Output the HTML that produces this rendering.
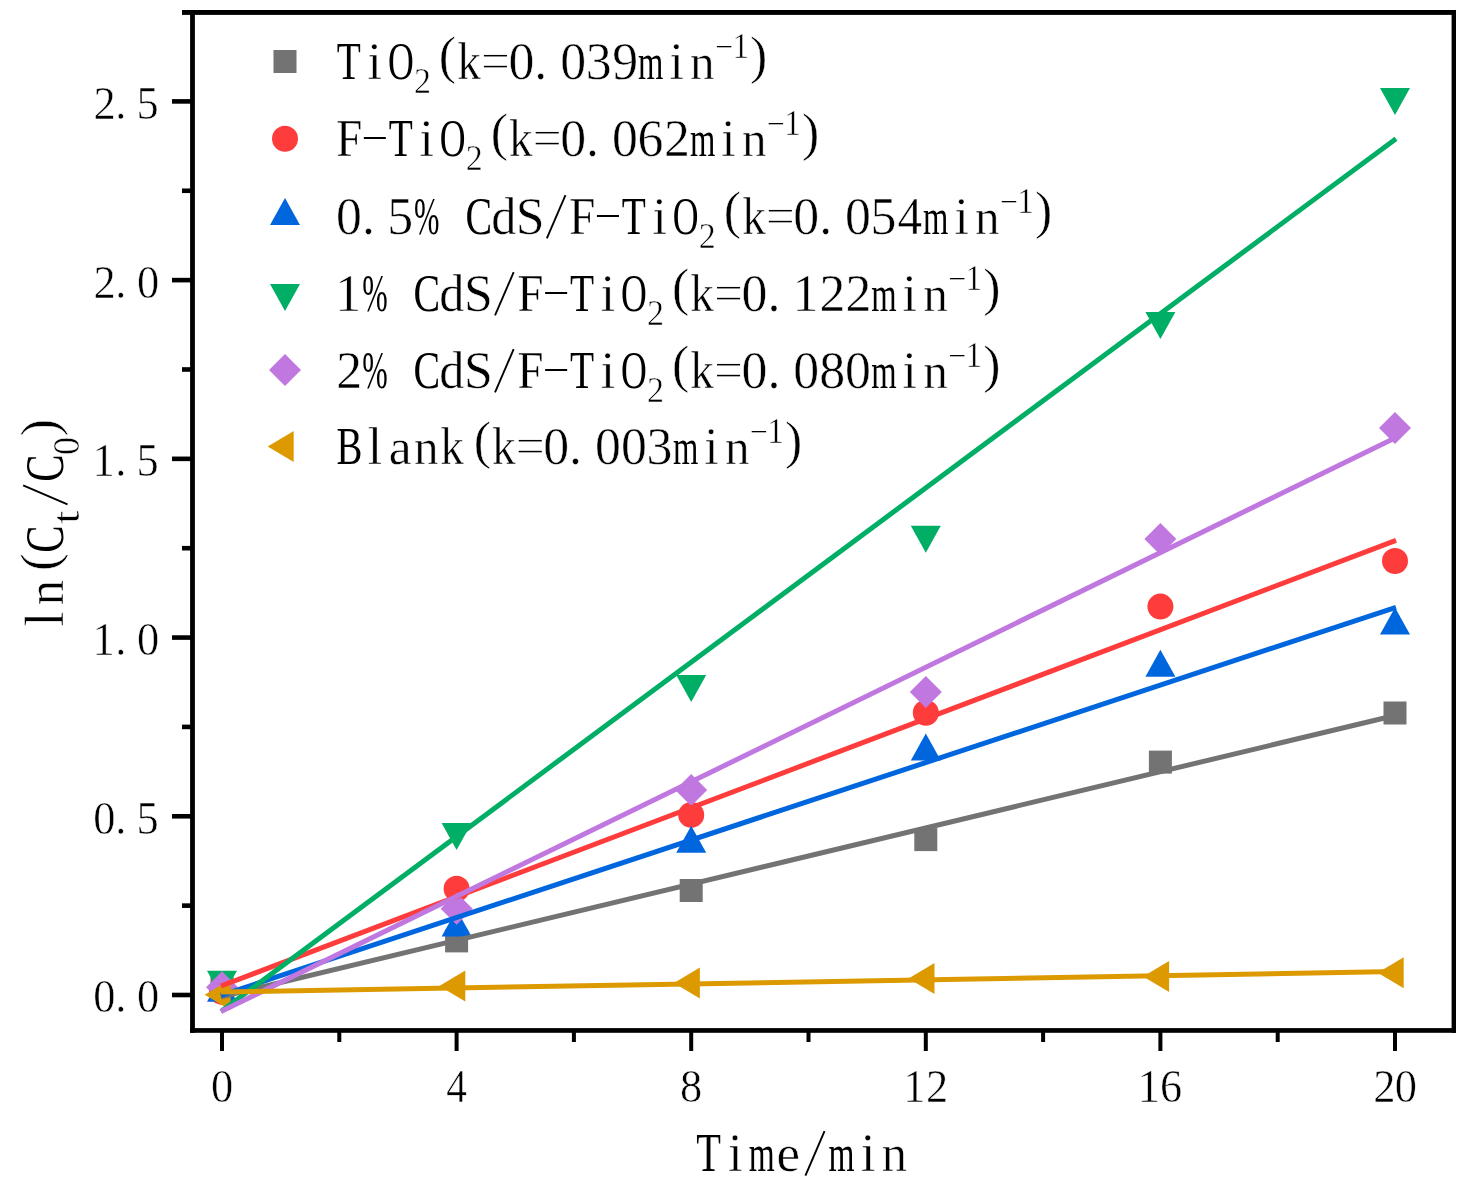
<!DOCTYPE html>
<html><head><meta charset="utf-8"><title>ln(Ct/C0) vs Time</title>
<style>html,body{margin:0;padding:0;background:#fff;}body{width:1476px;height:1192px;overflow:hidden;font-family:"Liberation Serif",serif;}svg{display:block;will-change:transform;}</style>
</head><body>
<svg width="1476" height="1192" viewBox="0 0 1476 1192">
<rect width="1476" height="1192" fill="#fff"/>
<g fill="#000"><rect x="190.1" y="10" width="4.8" height="1022.8" fill="#000"/><rect x="182" y="10" width="1274" height="4.9" fill="#000"/><rect x="1451.6" y="10" width="4.4" height="1022.8" fill="#000"/><rect x="190.1" y="1028.1" width="1265.9" height="4.7" fill="#000"/><rect x="172" y="992.7" width="19" height="4.6" fill="#000"/><rect x="172" y="813.98" width="19" height="4.6" fill="#000"/><rect x="172" y="635.26" width="19" height="4.6" fill="#000"/><rect x="172" y="456.54" width="19" height="4.6" fill="#000"/><rect x="172" y="277.82" width="19" height="4.6" fill="#000"/><rect x="172" y="99.1" width="19" height="4.6" fill="#000"/><rect x="182" y="903.34" width="9" height="4.6" fill="#000"/><rect x="182" y="724.62" width="9" height="4.6" fill="#000"/><rect x="182" y="545.9" width="9" height="4.6" fill="#000"/><rect x="182" y="367.18" width="9" height="4.6" fill="#000"/><rect x="182" y="188.46" width="9" height="4.6" fill="#000"/><rect x="220" y="1032" width="4" height="19" fill="#000"/><rect x="454.6" y="1032" width="4" height="19" fill="#000"/><rect x="689.2" y="1032" width="4" height="19" fill="#000"/><rect x="923.8" y="1032" width="4" height="19" fill="#000"/><rect x="1158.4" y="1032" width="4" height="19" fill="#000"/><rect x="1393" y="1032" width="4" height="19" fill="#000"/><rect x="337.3" y="1032" width="4" height="10" fill="#000"/><rect x="571.9" y="1032" width="4" height="10" fill="#000"/><rect x="806.5" y="1032" width="4" height="10" fill="#000"/><rect x="1041.1" y="1032" width="4" height="10" fill="#000"/><rect x="1275.7" y="1032" width="4" height="10" fill="#000"/></g>
<g><rect x="210.5" y="974.5" width="23" height="23" fill="#737373"/><rect x="445.1" y="929.4" width="23" height="23" fill="#737373"/><rect x="679.7" y="879" width="23" height="23" fill="#737373"/><rect x="914.3" y="828.1" width="23" height="23" fill="#737373"/><rect x="1148.9" y="750.6" width="23" height="23" fill="#737373"/><rect x="1383.5" y="701.5" width="23" height="23" fill="#737373"/><circle cx="222" cy="991.8" r="13" fill="#FF3C3C"/><circle cx="456.6" cy="888.8" r="13" fill="#FF3C3C"/><circle cx="691.2" cy="814.9" r="13" fill="#FF3C3C"/><circle cx="925.8" cy="712.8" r="13" fill="#FF3C3C"/><circle cx="1160.4" cy="606.6" r="13" fill="#FF3C3C"/><circle cx="1395" cy="561" r="13" fill="#FF3C3C"/><polygon points="222,974.8 237,1001.8 207,1001.8" fill="#0066DE"/><polygon points="456.6,909.6 471.6,936.6 441.6,936.6" fill="#0066DE"/><polygon points="691.2,825.7 706.2,852.7 676.2,852.7" fill="#0066DE"/><polygon points="925.8,733.4 940.8,760.4 910.8,760.4" fill="#0066DE"/><polygon points="1160.4,649.7 1175.4,676.7 1145.4,676.7" fill="#0066DE"/><polygon points="1395,607.4 1410,634.4 1380,634.4" fill="#0066DE"/><polygon points="207,970.8 237,970.8 222,997.8" fill="#00AE65"/><polygon points="441.6,823 471.6,823 456.6,850" fill="#00AE65"/><polygon points="676.2,675 706.2,675 691.2,702" fill="#00AE65"/><polygon points="910.8,525.8 940.8,525.8 925.8,552.8" fill="#00AE65"/><polygon points="1145.4,312 1175.4,312 1160.4,339" fill="#00AE65"/><polygon points="1380,88 1410,88 1395,115" fill="#00AE65"/><polygon points="222,971.2 238,987.2 222,1003.2 206,987.2" fill="#C078E0"/><polygon points="456.6,892.8 472.6,908.8 456.6,924.8 440.6,908.8" fill="#C078E0"/><polygon points="691.2,774 707.2,790 691.2,806 675.2,790" fill="#C078E0"/><polygon points="925.8,676 941.8,692 925.8,708 909.8,692" fill="#C078E0"/><polygon points="1160.4,522.9 1176.4,538.9 1160.4,554.9 1144.4,538.9" fill="#C078E0"/><polygon points="1395,412 1411,428 1395,444 1379,428" fill="#C078E0"/><polygon points="204.7,994.7 230.7,979.2 230.7,1010.2" fill="#DC9A00"/><polygon points="439.3,985.9 465.3,970.4 465.3,1001.4" fill="#DC9A00"/><polygon points="673.9,982.9 699.9,967.4 699.9,998.4" fill="#DC9A00"/><polygon points="908.5,978.5 934.5,963 934.5,994" fill="#DC9A00"/><polygon points="1143.1,976.4 1169.1,960.9 1169.1,991.9" fill="#DC9A00"/><polygon points="1377.7,972.8 1403.7,957.3 1403.7,988.3" fill="#DC9A00"/><g><line x1="221" y1="996.74" x2="1396" y2="715.26" stroke="#737373" stroke-width="5"/><line x1="221" y1="985.98" x2="1396" y2="540.42" stroke="#FF3C3C" stroke-width="5"/><line x1="221" y1="995.33" x2="1396" y2="607.27" stroke="#0066DE" stroke-width="5"/><line x1="221" y1="1011.44" x2="1396" y2="138.66" stroke="#00AE65" stroke-width="5"/><line x1="221" y1="1011.49" x2="1396" y2="437.51" stroke="#C078E0" stroke-width="5"/><line x1="221" y1="992.12" x2="1396" y2="971.58" stroke="#DC9A00" stroke-width="5"/></g><rect x="273.5" y="50" width="23" height="23" fill="#737373"/><circle cx="285" cy="138.7" r="13" fill="#FF3C3C"/><polygon points="285,198 300,225 270,225" fill="#0066DE"/><polygon points="270,284 300,284 285,311" fill="#00AE65"/><polygon points="285,354 301,370 285,386 269,370" fill="#C078E0"/><polygon points="267.7,446.4 293.7,430.9 293.7,461.9" fill="#DC9A00"/></g>
<g fill="#000" font-family="'Liberation Serif', serif"><text transform="translate(93.15 1012.4) scale(1 1.03)" font-size="44.4" vector-effect="non-scaling-stroke" stroke="#fff" stroke-width="0.5">0</text><text transform="translate(115.13 1012.4) scale(1 1.03)" font-size="44.4" vector-effect="non-scaling-stroke" stroke="#fff" stroke-width="0.5">.</text><text transform="translate(136.95 1012.4) scale(1 1.03)" font-size="44.4" vector-effect="non-scaling-stroke" stroke="#fff" stroke-width="0.5">0</text><text transform="translate(93.15 833.68) scale(1 1.03)" font-size="44.4" vector-effect="non-scaling-stroke" stroke="#fff" stroke-width="0.5">0</text><text transform="translate(115.13 833.68) scale(1 1.03)" font-size="44.4" vector-effect="non-scaling-stroke" stroke="#fff" stroke-width="0.5">.</text><text transform="translate(136.53 833.68) scale(1 1.03)" font-size="44.4" vector-effect="non-scaling-stroke" stroke="#fff" stroke-width="0.5">5</text><text transform="translate(92.53 654.96) scale(1 1.03)" font-size="44.4" vector-effect="non-scaling-stroke" stroke="#fff" stroke-width="0.5">1</text><text transform="translate(115.13 654.96) scale(1 1.03)" font-size="44.4" vector-effect="non-scaling-stroke" stroke="#fff" stroke-width="0.5">.</text><text transform="translate(136.95 654.96) scale(1 1.03)" font-size="44.4" vector-effect="non-scaling-stroke" stroke="#fff" stroke-width="0.5">0</text><text transform="translate(92.53 476.24) scale(1 1.03)" font-size="44.4" vector-effect="non-scaling-stroke" stroke="#fff" stroke-width="0.5">1</text><text transform="translate(115.13 476.24) scale(1 1.03)" font-size="44.4" vector-effect="non-scaling-stroke" stroke="#fff" stroke-width="0.5">.</text><text transform="translate(136.53 476.24) scale(1 1.03)" font-size="44.4" vector-effect="non-scaling-stroke" stroke="#fff" stroke-width="0.5">5</text><text transform="translate(93.4 297.52) scale(1 1.03)" font-size="44.4" vector-effect="non-scaling-stroke" stroke="#fff" stroke-width="0.5">2</text><text transform="translate(115.13 297.52) scale(1 1.03)" font-size="44.4" vector-effect="non-scaling-stroke" stroke="#fff" stroke-width="0.5">.</text><text transform="translate(136.95 297.52) scale(1 1.03)" font-size="44.4" vector-effect="non-scaling-stroke" stroke="#fff" stroke-width="0.5">0</text><text transform="translate(93.4 118.8) scale(1 1.03)" font-size="44.4" vector-effect="non-scaling-stroke" stroke="#fff" stroke-width="0.5">2</text><text transform="translate(115.13 118.8) scale(1 1.03)" font-size="44.4" vector-effect="non-scaling-stroke" stroke="#fff" stroke-width="0.5">.</text><text transform="translate(136.53 118.8) scale(1 1.03)" font-size="44.4" vector-effect="non-scaling-stroke" stroke="#fff" stroke-width="0.5">5</text><text transform="translate(210.9 1101.8) scale(1 1.03)" font-size="44.4" vector-effect="non-scaling-stroke" stroke="#fff" stroke-width="0.5">0</text><text transform="translate(446.15 1101.8) scale(0.93 1.03)" font-size="44.4" vector-effect="non-scaling-stroke" stroke="#fff" stroke-width="0.5">4</text><text transform="translate(680.1 1101.8) scale(1 1.03)" font-size="44.4" vector-effect="non-scaling-stroke" stroke="#fff" stroke-width="0.5">8</text><text transform="translate(903.13 1101.8) scale(1 1.03)" font-size="44.4" vector-effect="non-scaling-stroke" stroke="#fff" stroke-width="0.5">1</text><text transform="translate(925.9 1101.8) scale(1 1.03)" font-size="44.4" vector-effect="non-scaling-stroke" stroke="#fff" stroke-width="0.5">2</text><text transform="translate(1137.73 1101.8) scale(1 1.03)" font-size="44.4" vector-effect="non-scaling-stroke" stroke="#fff" stroke-width="0.5">1</text><text transform="translate(1159.96 1101.8) scale(1 1.03)" font-size="44.4" vector-effect="non-scaling-stroke" stroke="#fff" stroke-width="0.5">6</text><text transform="translate(1373.2 1101.8) scale(1 1.03)" font-size="44.4" vector-effect="non-scaling-stroke" stroke="#fff" stroke-width="0.5">2</text><text transform="translate(1394.85 1101.8) scale(1 1.03)" font-size="44.4" vector-effect="non-scaling-stroke" stroke="#fff" stroke-width="0.5">0</text><text transform="translate(336.84 79) scale(0.76 1.03)" font-size="51.8" vector-effect="non-scaling-stroke">T</text><text transform="translate(367.6 79) scale(1 1.03)" font-size="51.8" vector-effect="non-scaling-stroke" stroke="#fff" stroke-width="0.5">i</text><text transform="translate(387.89 79) scale(0.69 1.03)" font-size="51.8" vector-effect="non-scaling-stroke">O</text><text transform="translate(413.89 93) scale(1 1.03)" font-size="34" vector-effect="non-scaling-stroke" stroke="#fff" stroke-width="0.5">2</text><text transform="translate(438.87 73.33) scale(1 1)" font-size="51.8" vector-effect="non-scaling-stroke" stroke="#fff" stroke-width="0.5">(</text><text transform="translate(457.25 79) scale(0.91 1.03)" font-size="51.8" vector-effect="non-scaling-stroke" stroke="#fff" stroke-width="0.5">k</text><rect x="483.92" y="65.82" width="23.05" height="1.5"/><rect x="483.92" y="54.94" width="23.05" height="1.5"/><text transform="translate(508.4 79) scale(1 1.03)" font-size="51.8" vector-effect="non-scaling-stroke" stroke="#fff" stroke-width="0.5">0</text><text transform="translate(534.3 79) scale(1 1.03)" font-size="51.8" vector-effect="non-scaling-stroke" stroke="#fff" stroke-width="0.5">.</text><text transform="translate(560.2 79) scale(1 1.03)" font-size="51.8" vector-effect="non-scaling-stroke" stroke="#fff" stroke-width="0.5">0</text><text transform="translate(585.87 79) scale(1 1.03)" font-size="51.8" vector-effect="non-scaling-stroke" stroke="#fff" stroke-width="0.5">3</text><text transform="translate(612.23 79) scale(1 1.03)" font-size="51.8" vector-effect="non-scaling-stroke" stroke="#fff" stroke-width="0.5">9</text><text transform="translate(638.12 79) scale(0.63 0.98)" font-size="51.8" vector-effect="non-scaling-stroke">m</text><text transform="translate(669.5 79) scale(1 1.03)" font-size="51.8" vector-effect="non-scaling-stroke" stroke="#fff" stroke-width="0.5">i</text><text transform="translate(690.12 79) scale(0.95 0.98)" font-size="51.8" vector-effect="non-scaling-stroke" stroke="#fff" stroke-width="0.5">n</text><rect x="716.87" y="46" width="14.45" height="1.3"/><text transform="translate(732.13 58) scale(1 1.03)" font-size="34" vector-effect="non-scaling-stroke" stroke="#fff" stroke-width="0.5">1</text><text transform="translate(750.08 73.33) scale(1 1)" font-size="51.8" vector-effect="non-scaling-stroke" stroke="#fff" stroke-width="0.5">)</text><text transform="translate(336.22 156) scale(0.9 1.03)" font-size="51.8" vector-effect="non-scaling-stroke" stroke="#fff" stroke-width="0.25">F</text><rect x="363.84" y="137" width="22.01" height="2"/><text transform="translate(388.64 156) scale(0.76 1.03)" font-size="51.8" vector-effect="non-scaling-stroke">T</text><text transform="translate(419.4 156) scale(1 1.03)" font-size="51.8" vector-effect="non-scaling-stroke" stroke="#fff" stroke-width="0.5">i</text><text transform="translate(439.69 156) scale(0.69 1.03)" font-size="51.8" vector-effect="non-scaling-stroke">O</text><text transform="translate(465.69 170) scale(1 1.03)" font-size="34" vector-effect="non-scaling-stroke" stroke="#fff" stroke-width="0.5">2</text><text transform="translate(490.67 150.33) scale(1 1)" font-size="51.8" vector-effect="non-scaling-stroke" stroke="#fff" stroke-width="0.5">(</text><text transform="translate(509.05 156) scale(0.91 1.03)" font-size="51.8" vector-effect="non-scaling-stroke" stroke="#fff" stroke-width="0.5">k</text><rect x="535.72" y="142.82" width="23.05" height="1.5"/><rect x="535.72" y="131.94" width="23.05" height="1.5"/><text transform="translate(560.2 156) scale(1 1.03)" font-size="51.8" vector-effect="non-scaling-stroke" stroke="#fff" stroke-width="0.5">0</text><text transform="translate(586.1 156) scale(1 1.03)" font-size="51.8" vector-effect="non-scaling-stroke" stroke="#fff" stroke-width="0.5">.</text><text transform="translate(612 156) scale(1 1.03)" font-size="51.8" vector-effect="non-scaling-stroke" stroke="#fff" stroke-width="0.5">0</text><text transform="translate(637.56 156) scale(1 1.03)" font-size="51.8" vector-effect="non-scaling-stroke" stroke="#fff" stroke-width="0.5">6</text><text transform="translate(664.09 156) scale(1 1.03)" font-size="51.8" vector-effect="non-scaling-stroke" stroke="#fff" stroke-width="0.5">2</text><text transform="translate(689.92 156) scale(0.63 0.98)" font-size="51.8" vector-effect="non-scaling-stroke">m</text><text transform="translate(721.3 156) scale(1 1.03)" font-size="51.8" vector-effect="non-scaling-stroke" stroke="#fff" stroke-width="0.5">i</text><text transform="translate(741.92 156) scale(0.95 0.98)" font-size="51.8" vector-effect="non-scaling-stroke" stroke="#fff" stroke-width="0.5">n</text><rect x="768.67" y="123" width="14.45" height="1.3"/><text transform="translate(783.93 135) scale(1 1.03)" font-size="34" vector-effect="non-scaling-stroke" stroke="#fff" stroke-width="0.5">1</text><text transform="translate(801.88 150.33) scale(1 1)" font-size="51.8" vector-effect="non-scaling-stroke" stroke="#fff" stroke-width="0.5">)</text><text transform="translate(336 234) scale(1 1.03)" font-size="51.8" vector-effect="non-scaling-stroke" stroke="#fff" stroke-width="0.5">0</text><text transform="translate(361.9 234) scale(1 1.03)" font-size="51.8" vector-effect="non-scaling-stroke" stroke="#fff" stroke-width="0.5">.</text><text transform="translate(387.31 234) scale(1 1.03)" font-size="51.8" vector-effect="non-scaling-stroke" stroke="#fff" stroke-width="0.5">5</text><text transform="translate(413.95 234) scale(0.59 1.03)" font-size="51.8" vector-effect="non-scaling-stroke">%</text><text transform="translate(465.42 234) scale(0.77 1.03)" font-size="51.8" vector-effect="non-scaling-stroke">C</text><text transform="translate(491.13 234) scale(0.97 1.03)" font-size="51.8" vector-effect="non-scaling-stroke" stroke="#fff" stroke-width="0.5">d</text><text transform="translate(515.72 234) scale(1 1.03)" font-size="51.8" vector-effect="non-scaling-stroke" stroke="#fff" stroke-width="0.5">S</text><line x1="546.83" y1="238.4" x2="565.47" y2="195.15" stroke="#000" stroke-width="1.86"/><text transform="translate(569.32 234) scale(0.9 1.03)" font-size="51.8" vector-effect="non-scaling-stroke" stroke="#fff" stroke-width="0.25">F</text><rect x="596.94" y="215" width="22.01" height="2"/><text transform="translate(621.74 234) scale(0.76 1.03)" font-size="51.8" vector-effect="non-scaling-stroke">T</text><text transform="translate(652.5 234) scale(1 1.03)" font-size="51.8" vector-effect="non-scaling-stroke" stroke="#fff" stroke-width="0.5">i</text><text transform="translate(672.79 234) scale(0.69 1.03)" font-size="51.8" vector-effect="non-scaling-stroke">O</text><text transform="translate(698.79 248) scale(1 1.03)" font-size="34" vector-effect="non-scaling-stroke" stroke="#fff" stroke-width="0.5">2</text><text transform="translate(723.77 228.33) scale(1 1)" font-size="51.8" vector-effect="non-scaling-stroke" stroke="#fff" stroke-width="0.5">(</text><text transform="translate(742.15 234) scale(0.91 1.03)" font-size="51.8" vector-effect="non-scaling-stroke" stroke="#fff" stroke-width="0.5">k</text><rect x="768.82" y="220.82" width="23.05" height="1.5"/><rect x="768.82" y="209.94" width="23.05" height="1.5"/><text transform="translate(793.3 234) scale(1 1.03)" font-size="51.8" vector-effect="non-scaling-stroke" stroke="#fff" stroke-width="0.5">0</text><text transform="translate(819.2 234) scale(1 1.03)" font-size="51.8" vector-effect="non-scaling-stroke" stroke="#fff" stroke-width="0.5">.</text><text transform="translate(845.1 234) scale(1 1.03)" font-size="51.8" vector-effect="non-scaling-stroke" stroke="#fff" stroke-width="0.5">0</text><text transform="translate(870.51 234) scale(1 1.03)" font-size="51.8" vector-effect="non-scaling-stroke" stroke="#fff" stroke-width="0.5">5</text><text transform="translate(897.5 234) scale(0.95 1.03)" font-size="51.8" vector-effect="non-scaling-stroke" stroke="#fff" stroke-width="0.5">4</text><text transform="translate(923.02 234) scale(0.63 0.98)" font-size="51.8" vector-effect="non-scaling-stroke">m</text><text transform="translate(954.4 234) scale(1 1.03)" font-size="51.8" vector-effect="non-scaling-stroke" stroke="#fff" stroke-width="0.5">i</text><text transform="translate(975.02 234) scale(0.95 0.98)" font-size="51.8" vector-effect="non-scaling-stroke" stroke="#fff" stroke-width="0.5">n</text><rect x="1001.77" y="201" width="14.45" height="1.3"/><text transform="translate(1017.03 213) scale(1 1.03)" font-size="34" vector-effect="non-scaling-stroke" stroke="#fff" stroke-width="0.5">1</text><text transform="translate(1034.98 228.33) scale(1 1)" font-size="51.8" vector-effect="non-scaling-stroke" stroke="#fff" stroke-width="0.5">)</text><text transform="translate(335.28 311) scale(1 1.03)" font-size="51.8" vector-effect="non-scaling-stroke" stroke="#fff" stroke-width="0.5">1</text><text transform="translate(362.15 311) scale(0.59 1.03)" font-size="51.8" vector-effect="non-scaling-stroke">%</text><text transform="translate(413.62 311) scale(0.77 1.03)" font-size="51.8" vector-effect="non-scaling-stroke">C</text><text transform="translate(439.33 311) scale(0.97 1.03)" font-size="51.8" vector-effect="non-scaling-stroke" stroke="#fff" stroke-width="0.5">d</text><text transform="translate(463.92 311) scale(1 1.03)" font-size="51.8" vector-effect="non-scaling-stroke" stroke="#fff" stroke-width="0.5">S</text><line x1="495.03" y1="315.4" x2="513.67" y2="272.15" stroke="#000" stroke-width="1.86"/><text transform="translate(517.52 311) scale(0.9 1.03)" font-size="51.8" vector-effect="non-scaling-stroke" stroke="#fff" stroke-width="0.25">F</text><rect x="545.14" y="292" width="22.01" height="2"/><text transform="translate(569.94 311) scale(0.76 1.03)" font-size="51.8" vector-effect="non-scaling-stroke">T</text><text transform="translate(600.7 311) scale(1 1.03)" font-size="51.8" vector-effect="non-scaling-stroke" stroke="#fff" stroke-width="0.5">i</text><text transform="translate(620.99 311) scale(0.69 1.03)" font-size="51.8" vector-effect="non-scaling-stroke">O</text><text transform="translate(646.99 325) scale(1 1.03)" font-size="34" vector-effect="non-scaling-stroke" stroke="#fff" stroke-width="0.5">2</text><text transform="translate(671.97 305.33) scale(1 1)" font-size="51.8" vector-effect="non-scaling-stroke" stroke="#fff" stroke-width="0.5">(</text><text transform="translate(690.35 311) scale(0.91 1.03)" font-size="51.8" vector-effect="non-scaling-stroke" stroke="#fff" stroke-width="0.5">k</text><rect x="717.02" y="297.82" width="23.05" height="1.5"/><rect x="717.02" y="286.94" width="23.05" height="1.5"/><text transform="translate(741.5 311) scale(1 1.03)" font-size="51.8" vector-effect="non-scaling-stroke" stroke="#fff" stroke-width="0.5">0</text><text transform="translate(767.4 311) scale(1 1.03)" font-size="51.8" vector-effect="non-scaling-stroke" stroke="#fff" stroke-width="0.5">.</text><text transform="translate(792.58 311) scale(1 1.03)" font-size="51.8" vector-effect="non-scaling-stroke" stroke="#fff" stroke-width="0.5">1</text><text transform="translate(819.49 311) scale(1 1.03)" font-size="51.8" vector-effect="non-scaling-stroke" stroke="#fff" stroke-width="0.5">2</text><text transform="translate(845.39 311) scale(1 1.03)" font-size="51.8" vector-effect="non-scaling-stroke" stroke="#fff" stroke-width="0.5">2</text><text transform="translate(871.22 311) scale(0.63 0.98)" font-size="51.8" vector-effect="non-scaling-stroke">m</text><text transform="translate(902.6 311) scale(1 1.03)" font-size="51.8" vector-effect="non-scaling-stroke" stroke="#fff" stroke-width="0.5">i</text><text transform="translate(923.22 311) scale(0.95 0.98)" font-size="51.8" vector-effect="non-scaling-stroke" stroke="#fff" stroke-width="0.5">n</text><rect x="949.97" y="278" width="14.45" height="1.3"/><text transform="translate(965.23 290) scale(1 1.03)" font-size="34" vector-effect="non-scaling-stroke" stroke="#fff" stroke-width="0.5">1</text><text transform="translate(983.18 305.33) scale(1 1)" font-size="51.8" vector-effect="non-scaling-stroke" stroke="#fff" stroke-width="0.5">)</text><text transform="translate(336.29 388) scale(1 1.03)" font-size="51.8" vector-effect="non-scaling-stroke" stroke="#fff" stroke-width="0.5">2</text><text transform="translate(362.15 388) scale(0.59 1.03)" font-size="51.8" vector-effect="non-scaling-stroke">%</text><text transform="translate(413.62 388) scale(0.77 1.03)" font-size="51.8" vector-effect="non-scaling-stroke">C</text><text transform="translate(439.33 388) scale(0.97 1.03)" font-size="51.8" vector-effect="non-scaling-stroke" stroke="#fff" stroke-width="0.5">d</text><text transform="translate(463.92 388) scale(1 1.03)" font-size="51.8" vector-effect="non-scaling-stroke" stroke="#fff" stroke-width="0.5">S</text><line x1="495.03" y1="392.4" x2="513.67" y2="349.15" stroke="#000" stroke-width="1.86"/><text transform="translate(517.52 388) scale(0.9 1.03)" font-size="51.8" vector-effect="non-scaling-stroke" stroke="#fff" stroke-width="0.25">F</text><rect x="545.14" y="369" width="22.01" height="2"/><text transform="translate(569.94 388) scale(0.76 1.03)" font-size="51.8" vector-effect="non-scaling-stroke">T</text><text transform="translate(600.7 388) scale(1 1.03)" font-size="51.8" vector-effect="non-scaling-stroke" stroke="#fff" stroke-width="0.5">i</text><text transform="translate(620.99 388) scale(0.69 1.03)" font-size="51.8" vector-effect="non-scaling-stroke">O</text><text transform="translate(646.99 402) scale(1 1.03)" font-size="34" vector-effect="non-scaling-stroke" stroke="#fff" stroke-width="0.5">2</text><text transform="translate(671.97 382.33) scale(1 1)" font-size="51.8" vector-effect="non-scaling-stroke" stroke="#fff" stroke-width="0.5">(</text><text transform="translate(690.35 388) scale(0.91 1.03)" font-size="51.8" vector-effect="non-scaling-stroke" stroke="#fff" stroke-width="0.5">k</text><rect x="717.02" y="374.82" width="23.05" height="1.5"/><rect x="717.02" y="363.94" width="23.05" height="1.5"/><text transform="translate(741.5 388) scale(1 1.03)" font-size="51.8" vector-effect="non-scaling-stroke" stroke="#fff" stroke-width="0.5">0</text><text transform="translate(767.4 388) scale(1 1.03)" font-size="51.8" vector-effect="non-scaling-stroke" stroke="#fff" stroke-width="0.5">.</text><text transform="translate(793.3 388) scale(1 1.03)" font-size="51.8" vector-effect="non-scaling-stroke" stroke="#fff" stroke-width="0.5">0</text><text transform="translate(819.2 388) scale(1 1.03)" font-size="51.8" vector-effect="non-scaling-stroke" stroke="#fff" stroke-width="0.5">8</text><text transform="translate(845.1 388) scale(1 1.03)" font-size="51.8" vector-effect="non-scaling-stroke" stroke="#fff" stroke-width="0.5">0</text><text transform="translate(871.22 388) scale(0.63 0.98)" font-size="51.8" vector-effect="non-scaling-stroke">m</text><text transform="translate(902.6 388) scale(1 1.03)" font-size="51.8" vector-effect="non-scaling-stroke" stroke="#fff" stroke-width="0.5">i</text><text transform="translate(923.22 388) scale(0.95 0.98)" font-size="51.8" vector-effect="non-scaling-stroke" stroke="#fff" stroke-width="0.5">n</text><rect x="949.97" y="355" width="14.45" height="1.3"/><text transform="translate(965.23 367) scale(1 1.03)" font-size="34" vector-effect="non-scaling-stroke" stroke="#fff" stroke-width="0.5">1</text><text transform="translate(983.18 382.33) scale(1 1)" font-size="51.8" vector-effect="non-scaling-stroke" stroke="#fff" stroke-width="0.5">)</text><text transform="translate(336.44 464) scale(0.75 1.03)" font-size="51.8" vector-effect="non-scaling-stroke">B</text><text transform="translate(367.65 464) scale(1 1.03)" font-size="51.8" vector-effect="non-scaling-stroke" stroke="#fff" stroke-width="0.5">l</text><text transform="translate(388.7 464) scale(1 0.98)" font-size="51.8" vector-effect="non-scaling-stroke" stroke="#fff" stroke-width="0.5">a</text><text transform="translate(414.12 464) scale(0.95 0.98)" font-size="51.8" vector-effect="non-scaling-stroke" stroke="#fff" stroke-width="0.5">n</text><text transform="translate(440.25 464) scale(0.91 1.03)" font-size="51.8" vector-effect="non-scaling-stroke" stroke="#fff" stroke-width="0.5">k</text><text transform="translate(473.67 458.33) scale(1 1)" font-size="51.8" vector-effect="non-scaling-stroke" stroke="#fff" stroke-width="0.5">(</text><text transform="translate(492.05 464) scale(0.91 1.03)" font-size="51.8" vector-effect="non-scaling-stroke" stroke="#fff" stroke-width="0.5">k</text><rect x="518.72" y="450.82" width="23.05" height="1.5"/><rect x="518.72" y="439.94" width="23.05" height="1.5"/><text transform="translate(543.2 464) scale(1 1.03)" font-size="51.8" vector-effect="non-scaling-stroke" stroke="#fff" stroke-width="0.5">0</text><text transform="translate(569.1 464) scale(1 1.03)" font-size="51.8" vector-effect="non-scaling-stroke" stroke="#fff" stroke-width="0.5">.</text><text transform="translate(595 464) scale(1 1.03)" font-size="51.8" vector-effect="non-scaling-stroke" stroke="#fff" stroke-width="0.5">0</text><text transform="translate(620.9 464) scale(1 1.03)" font-size="51.8" vector-effect="non-scaling-stroke" stroke="#fff" stroke-width="0.5">0</text><text transform="translate(646.57 464) scale(1 1.03)" font-size="51.8" vector-effect="non-scaling-stroke" stroke="#fff" stroke-width="0.5">3</text><text transform="translate(672.92 464) scale(0.63 0.98)" font-size="51.8" vector-effect="non-scaling-stroke">m</text><text transform="translate(704.3 464) scale(1 1.03)" font-size="51.8" vector-effect="non-scaling-stroke" stroke="#fff" stroke-width="0.5">i</text><text transform="translate(724.92 464) scale(0.95 0.98)" font-size="51.8" vector-effect="non-scaling-stroke" stroke="#fff" stroke-width="0.5">n</text><rect x="751.67" y="431" width="14.45" height="1.3"/><text transform="translate(766.93 443) scale(1 1.03)" font-size="34" vector-effect="non-scaling-stroke" stroke="#fff" stroke-width="0.5">1</text><text transform="translate(784.88 458.33) scale(1 1)" font-size="51.8" vector-effect="non-scaling-stroke" stroke="#fff" stroke-width="0.5">)</text><text transform="translate(696.36 1171) scale(0.76 1.03)" font-size="53.1" vector-effect="non-scaling-stroke">T</text><text transform="translate(727.9 1171) scale(1 1.03)" font-size="53.1" vector-effect="non-scaling-stroke" stroke="#fff" stroke-width="0.5">i</text><text transform="translate(748.83 1171) scale(0.63 0.98)" font-size="53.1" vector-effect="non-scaling-stroke">m</text><text transform="translate(776.52 1171) scale(1 0.98)" font-size="53.1" vector-effect="non-scaling-stroke" stroke="#fff" stroke-width="0.5">e</text><line x1="805.42" y1="1175.51" x2="824.53" y2="1131.17" stroke="#000" stroke-width="1.91"/><text transform="translate(828.48 1171) scale(0.63 0.98)" font-size="53.1" vector-effect="non-scaling-stroke">m</text><text transform="translate(860.65 1171) scale(1 1.03)" font-size="53.1" vector-effect="non-scaling-stroke" stroke="#fff" stroke-width="0.5">i</text><text transform="translate(881.78 1171) scale(0.95 0.98)" font-size="53.1" vector-effect="non-scaling-stroke" stroke="#fff" stroke-width="0.5">n</text></g>
<g fill="#000" font-family="'Liberation Serif', serif" transform="translate(63 632.35) rotate(-90)"><text transform="translate(5.9 0) scale(1 1.03)" font-size="53.1" vector-effect="non-scaling-stroke" stroke="#fff" stroke-width="0.5">l</text><text transform="translate(26.98 0) scale(0.95 0.98)" font-size="53.1" vector-effect="non-scaling-stroke" stroke="#fff" stroke-width="0.5">n</text><text transform="translate(61.47 -5.82) scale(1 1)" font-size="53.1" vector-effect="non-scaling-stroke" stroke="#fff" stroke-width="0.5">(</text><text transform="translate(79.56 0) scale(0.77 1.03)" font-size="53.1" vector-effect="non-scaling-stroke">C</text><text transform="translate(108.43 16) scale(1.33 1.03)" font-size="36" vector-effect="non-scaling-stroke" stroke="#fff" stroke-width="0.5">t</text><line x1="127.92" y1="4.51" x2="147.03" y2="-39.83" stroke="#000" stroke-width="1.91"/><text transform="translate(150.66 0) scale(0.77 1.03)" font-size="53.1" vector-effect="non-scaling-stroke">C</text><text transform="translate(177.3 16) scale(1 1.03)" font-size="36" vector-effect="non-scaling-stroke" stroke="#fff" stroke-width="0.5">0</text><text transform="translate(195.8 -5.82) scale(1 1)" font-size="53.1" vector-effect="non-scaling-stroke" stroke="#fff" stroke-width="0.5">)</text></g>
</svg>
</body></html>
